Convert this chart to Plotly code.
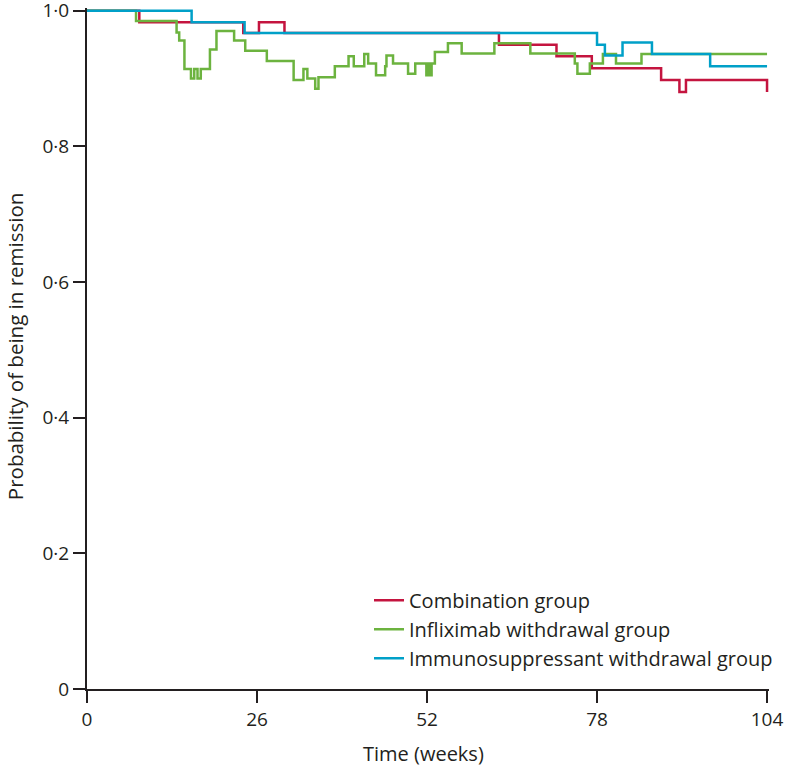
import plotly.graph_objects as go

# Combination group
comb_t = [0, 8, 23.9, 26.3, 30.2, 63.0, 71.8, 77.2, 87.8, 90.6, 91.6, 104]
comb_v = [1.0, 0.983, 0.967, 0.983, 0.967, 0.950, 0.933, 0.915, 0.898, 0.880, 0.898, 0.880]

# Infliximab withdrawal group
infl_t = [0, 7.5, 13.7, 14.1, 14.9, 15.9, 16.4, 16.9, 17.4, 18.8, 19.8, 22.5, 24.2, 27.5,
          31.6, 33.1, 33.7, 34.9, 35.4, 37.9, 40.0, 40.8, 42.4, 43.0, 44.2, 45.6, 45.8,
          46.8, 49.1, 50.2, 51.9, 52.1, 52.2, 52.4, 52.5, 52.7, 53.2, 55.2, 57.3, 62.3,
          67.8, 74.6, 75.0, 76.9, 78.9, 80.9, 84.8, 104]
infl_v = [1.0, 0.985, 0.968, 0.956, 0.914, 0.900, 0.914, 0.900, 0.914, 0.943, 0.970, 0.956,
          0.941, 0.926, 0.898, 0.914, 0.900, 0.885, 0.902, 0.918, 0.933, 0.918, 0.936,
          0.922, 0.905, 0.918, 0.934, 0.922, 0.907, 0.922, 0.905, 0.922, 0.905, 0.922,
          0.905, 0.922, 0.939, 0.952, 0.937, 0.952, 0.937, 0.922, 0.907, 0.922, 0.936,
          0.922, 0.936, 0.936]

# Immunosuppressant withdrawal group
immu_t = [0, 16, 24.1, 78.0, 79.2, 81.9, 86.4, 95.3, 104]
immu_v = [1.0, 0.983, 0.967, 0.950, 0.934, 0.953, 0.936, 0.918, 0.918]

names = ["Combination group", "Infliximab withdrawal group", "Immunosuppressant withdrawal group"]
colors = ["#c4143f", "#6cb33f", "#00a0c8"]

x_ticks = [0, 26, 52, 78, 104]
y_ticks = [0, 0.2, 0.4, 0.6, 0.8, 1.0]
y_ticktext = ["0", "0·2", "0·4", "0·6", "0·8", "1·0"]

x_title = "Time (weeks)"
y_title = "Probability of being in remission"

FONT = "Open Sans"
INK = "#231f20"

fig = go.Figure()
for t, v, n, c in zip([comb_t, infl_t, immu_t], [comb_v, infl_v, immu_v], names, colors):
    fig.add_trace(go.Scatter(x=t, y=v, mode="lines", name=n,
                             line=dict(color=c, width=2.5, shape="hv")))

axis_common = dict(showgrid=False, zeroline=False, showline=True, linecolor=INK, linewidth=2,
                   ticks="outside", ticklen=12, tickwidth=2, tickcolor=INK,
                   tickfont=dict(family=FONT, size=19, color=INK),
                   automargin=False, ticklabeloverflow="allow")

fig.update_layout(
    width=787, height=768,
    margin=dict(l=87, r=18, t=8, b=79),
    paper_bgcolor="white", plot_bgcolor="white",
    font=dict(family=FONT, size=18, color=INK),
    showlegend=True,
    legend=dict(x=0.4135, y=0.159, xanchor="left", yanchor="top",
                font=dict(family=FONT, size=20, color=INK), bgcolor="rgba(0,0,0,0)",
                tracegroupgap=0),
    xaxis=dict(range=[0, 104.3], tickvals=x_ticks, ticktext=[str(v) for v in x_ticks], **axis_common),
    yaxis=dict(range=[0, 1.004], tickvals=y_ticks, ticktext=y_ticktext, **axis_common),
    annotations=[
        dict(text=x_title, xref="paper", yref="paper", x=0.4927, y=-0.0953,
             xanchor="center", yanchor="middle", showarrow=False,
             font=dict(family=FONT, size=20, color=INK)),
        dict(text=y_title, xref="paper", yref="paper", x=-0.1065, y=0.504,
             xanchor="center", yanchor="middle", showarrow=False, textangle=-90,
             font=dict(family=FONT, size=20.5, color=INK)),
    ],
)

fig.write_html("out.html", config={"displayModeBar": False},
               post_script="document.body.style.margin='0';document.body.style.overflow='hidden';")
